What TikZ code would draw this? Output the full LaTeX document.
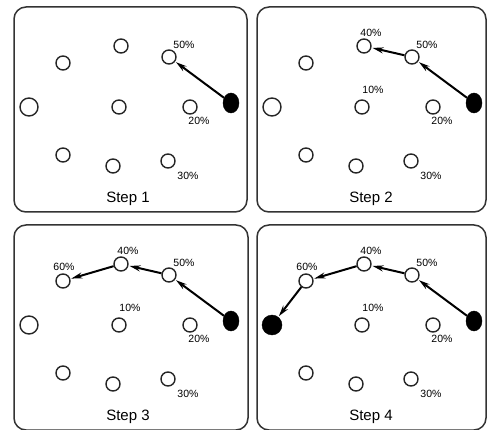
\documentclass[tikz,border=0pt]{standalone}
\usepackage{fontspec}
\setmainfont{Liberation Sans}
\usetikzlibrary{shapes.geometric,arrows.meta}

\tikzset{
  panelframe/.style={draw=black!80, line width=1.5pt, rounded corners=12pt},
  spot/.style={circle, draw=black!85, line width=1.4pt, fill=white, minimum size=14pt, inner sep=0pt},
  bigspot/.style={spot, minimum size=18pt},
  startspot/.style={ellipse, fill=black, draw=black, minimum width=16pt, minimum height=20pt, inner sep=0pt},
  endspot/.style={circle, fill=black, draw=black, minimum size=20pt, inner sep=0pt},
  pct/.style={font=\fontsize{10.5}{11}\selectfont, inner sep=0pt},
  steplabel/.style={font=\fontsize{15}{17}\selectfont, inner sep=0pt},
  hop/.style={line width=2pt, -{Stealth[length=11pt,width=6pt]}, shorten >=1pt, shorten <=0pt}
}

% One panel: #1 name prefix, #2 x shift, #3 y shift, #4 step number, #5 frame width
\newcommand\walkpanel[5]{%
\begin{scope}[shift={(#2,#3)}]
  \draw[panelframe] (14,7) rectangle (14+#5,212);
  \node[spot] (#1a) at (121,46) {};
  \node[spot] (#1b) at (63,63) {};
  \node[spot] (#1c) at (169,57) {};
  \node[startspot] (#1d) at (231,103) {};
  \ifnum#4=4
    \node[endspot] (#1e) at (29,107) {};
  \else
    \node[bigspot] (#1e) at (29,107) {};
  \fi
  \node[spot] (#1f) at (119,107) {};
  \node[spot] (#1g) at (190,107) {};
  \node[spot] (#1h) at (63,155) {};
  \node[spot] (#1i) at (113,166) {};
  \node[spot] (#1j) at (168,161) {};
  \node[pct] (#1lc) at (184,45) {50\%};
  \node[pct] (#1lg) at (199,121) {20\%};
  \node[pct] (#1lj) at (188,176) {30\%};
  \node[steplabel] (#1title) at (128,199) {Step #4};
  \draw[hop] (#1d) -- (#1c);
  \ifnum#4>1
    \node[pct] (#1la) at (128,33) {40\%};
    \node[pct] (#1lf) at (130,90) {10\%};
    \draw[hop] (#1c) -- (#1a);
  \fi
  \ifnum#4>2
    \node[pct] (#1lb) at (64,49) {60\%};
    \draw[hop] (#1a) -- (#1b);
  \fi
  \ifnum#4>3
    \draw[hop] (#1b) -- (#1e);
  \fi
\end{scope}}

\begin{document}
\begin{tikzpicture}[x=1pt,y=-1pt]
  \useasboundingbox (0,0) rectangle (487,430);
  \walkpanel{p}{0}{0}{1}{233}
  \walkpanel{q}{243}{0}{2}{229}
  \walkpanel{r}{0}{218}{3}{234}
  \walkpanel{s}{243}{218}{4}{229}
\end{tikzpicture}
\end{document}
